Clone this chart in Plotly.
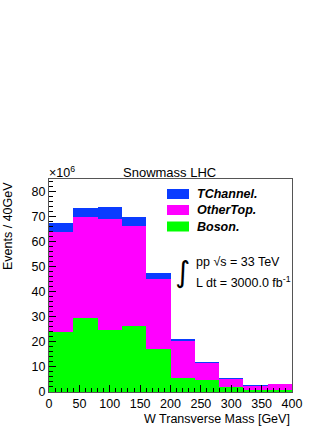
import plotly.graph_objects as go

bin_edges = [0, 40, 80, 120, 160, 200, 240, 280, 320, 360, 400]
boson = [23.9, 29.6, 24.7, 26.2, 17.1, 5.7, 4.7, 1.9, 0.8, 0.8]
other_top = [40.0, 40.2, 44.5, 40.2, 27.9, 14.6, 6.8, 3.2, 1.7, 2.4]
tchannel = [3.6, 3.7, 4.6, 3.6, 2.4, 0.7, 0.4, 0.4, 0.1, 0.1]
series_names = ["Boson.", "OtherTop.", "TChannel."]
series_colors = ["#00ff00", "#ff00ff", "#0a3cff"]

centers = [(a + b) / 2 for a, b in zip(bin_edges[:-1], bin_edges[1:])]
widths = [b - a for a, b in zip(bin_edges[:-1], bin_edges[1:])]

FONT = "Liberation Sans, Arial, sans-serif"
fig = go.Figure()
for name, vals, col in zip(series_names, [boson, other_top, tchannel], series_colors):
    fig.add_trace(go.Bar(x=centers, y=vals, width=widths, name=name,
                         marker=dict(color=col, line=dict(width=0)),
                         showlegend=False, hoverinfo="skip"))

L, R, T, B = 49, 40, 179, 38
W, H = 332, 430
pw, ph = W - L - R, H - T - B

def px(x):
    return (x - L) / pw

def py(y):
    return (H - B - y) / ph

fig.update_layout(
    width=W, height=H, barmode="stack", bargap=0,
    margin=dict(l=L, r=R, t=T, b=B, autoexpand=False),
    paper_bgcolor="white", plot_bgcolor="white",
    font=dict(family=FONT, size=12.5, color="black"),
    xaxis=dict(range=[0, 400], tickvals=[0, 50, 100, 150, 200, 250, 300, 350, 400],
               ticks="inside", ticklen=7, tickwidth=1, tickcolor="black",
               minor=dict(ticks="inside", dtick=10, ticklen=4, tickcolor="black"),
               showline=True, linecolor="#555555", linewidth=1, mirror=True,
               showgrid=False, zeroline=False, tickfont=dict(size=12.5)),
    yaxis=dict(range=[0, 85.1], tickvals=[0, 10, 20, 30, 40, 50, 60, 70, 80],
               ticks="inside", ticklen=7, tickwidth=1, tickcolor="black",
               minor=dict(ticks="inside", dtick=2, ticklen=4, tickcolor="black"),
               showline=True, linecolor="#555555", linewidth=1, mirror=True,
               showgrid=False, zeroline=False, tickfont=dict(size=12.5)),
)

ann = []
ann.append(dict(text="Snowmass LHC", x=px(169.5), y=py(172), xref="paper", yref="paper",
                showarrow=False, xanchor="center", yanchor="middle", font=dict(size=13)))
ann.append(dict(text="×10<sup>6</sup>", x=px(47), y=py(172), xref="paper", yref="paper",
                showarrow=False, xanchor="left", yanchor="middle", font=dict(size=12.5)))
ann.append(dict(text="Events / 40GeV", x=px(8), y=py(226), xref="paper", yref="paper",
                showarrow=False, textangle=-90, xanchor="center", yanchor="middle",
                font=dict(size=12.5)))
ann.append(dict(text="W Transverse Mass [GeV]", x=1.0, y=py(419), xref="paper", yref="paper",
                showarrow=False, xanchor="right", yanchor="middle", font=dict(size=12.5)))
ann.append(dict(text="∫", x=px(182.5), y=py(272), xref="paper", yref="paper",
                showarrow=False, xanchor="center", yanchor="middle",
                font=dict(size=29, family="DejaVu Sans")))
ann.append(dict(text="pp √s = 33 TeV", x=px(194), y=py(262), xref="paper", yref="paper",
                showarrow=False, xanchor="left", yanchor="middle", font=dict(size=12.5)))
ann.append(dict(text="L dt = 3000.0 fb<sup>-1</sup>", x=px(194), y=py(281.5), xref="paper",
                yref="paper", showarrow=False, xanchor="left", yanchor="middle",
                font=dict(size=12.5)))

shapes = []
leg_rows = [(194, "TChannel.", series_colors[2]), (210, "OtherTop.", series_colors[1]),
            (226.5, "Boson.", series_colors[0])]
for yc, name, col in leg_rows:
    shapes.append(dict(type="rect", xref="paper", yref="paper",
                       x0=px(167), x1=px(189), y0=py(yc + 5), y1=py(yc - 5),
                       fillcolor=col, line=dict(width=0)))
    ann.append(dict(text="<b><i>" + name + "</i></b>", x=px(195), y=py(yc), xref="paper",
                    yref="paper", showarrow=False, xanchor="left", yanchor="middle",
                    font=dict(size=12.5)))

fig.update_layout(annotations=ann, shapes=shapes)
fig.write_html("out.html", config={"displayModeBar": False, "staticPlot": True},
               post_script="document.body.style.margin='0';document.body.style.overflow='hidden';")
